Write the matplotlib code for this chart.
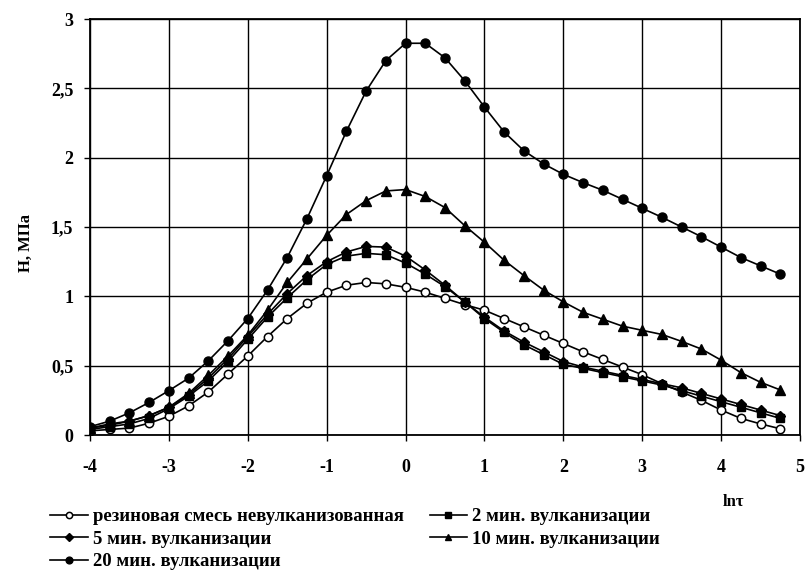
import numpy as np
import matplotlib
matplotlib.use("Agg")
import matplotlib.pyplot as plt

plt.rcParams['font.family'] = ['Liberation Serif', 'DejaVu Serif']

ln_tau = np.arange(-4.0, 4.76, 0.25)

h_raw = [0.03, 0.04, 0.05, 0.085, 0.135, 0.21, 0.31, 0.44, 0.57, 0.71, 0.84, 0.95,
         1.03, 1.08, 1.10, 1.09, 1.065, 1.03, 0.985, 0.94, 0.90, 0.84, 0.78, 0.72,
         0.66, 0.60, 0.545, 0.49, 0.435, 0.37, 0.31, 0.25, 0.18, 0.12, 0.08, 0.045]
h_2min = [0.04, 0.06, 0.08, 0.12, 0.19, 0.28, 0.39, 0.53, 0.69, 0.85, 0.99, 1.12,
          1.23, 1.29, 1.31, 1.30, 1.24, 1.16, 1.07, 0.96, 0.84, 0.74, 0.65, 0.58,
          0.51, 0.48, 0.45, 0.42, 0.39, 0.36, 0.32, 0.28, 0.24, 0.20, 0.16, 0.12]
h_5min = [0.05, 0.07, 0.10, 0.14, 0.20, 0.29, 0.41, 0.55, 0.71, 0.87, 1.02, 1.15,
          1.25, 1.32, 1.36, 1.355, 1.29, 1.19, 1.08, 0.96, 0.85, 0.75, 0.67, 0.60,
          0.53, 0.49, 0.46, 0.43, 0.40, 0.37, 0.34, 0.30, 0.26, 0.22, 0.18, 0.14]
h_10min = [0.05, 0.08, 0.10, 0.14, 0.20, 0.30, 0.43, 0.57, 0.72, 0.90, 1.10, 1.27,
           1.44, 1.59, 1.69, 1.76, 1.77, 1.72, 1.64, 1.51, 1.39, 1.26, 1.15, 1.045,
           0.96, 0.885, 0.835, 0.785, 0.755, 0.725, 0.675, 0.62, 0.54, 0.45, 0.38, 0.325]
h_20min = [0.06, 0.10, 0.16, 0.235, 0.32, 0.41, 0.535, 0.68, 0.84, 1.045, 1.28, 1.56,
           1.87, 2.19, 2.48, 2.70, 2.825, 2.825, 2.72, 2.555, 2.365, 2.185, 2.05, 1.955,
           1.88, 1.82, 1.765, 1.70, 1.635, 1.57, 1.50, 1.43, 1.355, 1.28, 1.22, 1.16]

labels = ["резиновая смесь невулканизованная", "2 мин. вулканизации",
          "5 мин. вулканизации", "10 мин. вулканизации", "20 мин. вулканизации"]

x_ticks = [-4, -3, -2, -1, 0, 1, 2, 3, 4, 5]
y_ticks = [0, 0.5, 1, 1.5, 2, 2.5, 3]
y_tick_labels = ["0", "0,5", "1", "1,5", "2", "2,5", "3"]

fig = plt.figure(figsize=(8.07, 5.78), dpi=100)
ax = fig.add_axes([90 / 807, 1 - 435 / 578, 710 / 807, 416 / 578])

lw = 1.2
l_raw, = ax.plot(ln_tau, h_raw, color='black', lw=lw, marker='o', ms=6,
                 mfc='white', mec='black', mew=1.1, label=labels[0])
l_2, = ax.plot(ln_tau, h_2min, color='black', lw=lw, marker='s', ms=5.5,
               mfc='black', mec='black', label=labels[1])
l_5, = ax.plot(ln_tau, h_5min, color='black', lw=lw, marker='D', ms=5.5,
               mfc='black', mec='black', label=labels[2])
l_10, = ax.plot(ln_tau, h_10min, color='black', lw=lw, marker='^', ms=6.5,
                mfc='black', mec='black', label=labels[3])
l_20, = ax.plot(ln_tau, h_20min, color='black', lw=lw, marker='o', ms=6.5,
                mfc='black', mec='black', label=labels[4])

ax.set_xlim(-4, 5)
ax.set_ylim(0, 3)
ax.set_xticks(x_ticks)
ax.set_xticklabels([str(v) for v in x_ticks])
ax.set_yticks(y_ticks)
ax.set_yticklabels(y_tick_labels)
ax.grid(True, color='black', lw=1.0)
ax.set_axisbelow(True)
for s in ax.spines.values():
    s.set_color('black')
    s.set_linewidth(1.3)
ax.tick_params(direction='out', length=4, width=1, labelsize=13, colors='black')
ax.tick_params(axis='x', pad=13)
ax.tick_params(axis='y', pad=8)
for t in ax.get_xticklabels() + ax.get_yticklabels():
    t.set_fontweight('bold')

fig.text(26 / 807, 1 - 243 / 578, "Н, МПа", rotation=90, ha='center', va='center',
         fontsize=12, fontweight='bold')
fig.text(733 / 807, 1 - 502 / 578, "lnτ", ha='center', va='center',
         fontsize=12, fontweight='bold')

handles = [l_raw, l_5, l_20, l_2, l_10]
fig.legend(handles, [h.get_label() for h in handles], ncol=2,
           loc='upper left', bbox_to_anchor=(50 / 807, 1 - 508 / 578),
           frameon=False, borderpad=0, borderaxespad=0,
           handlelength=2.0, handletextpad=0.27,
           columnspacing=1.4, labelspacing=0.29, markerscale=0.75,
           prop={'weight': 'bold', 'size': 13.5})

fig.savefig("out.png", dpi=100)
